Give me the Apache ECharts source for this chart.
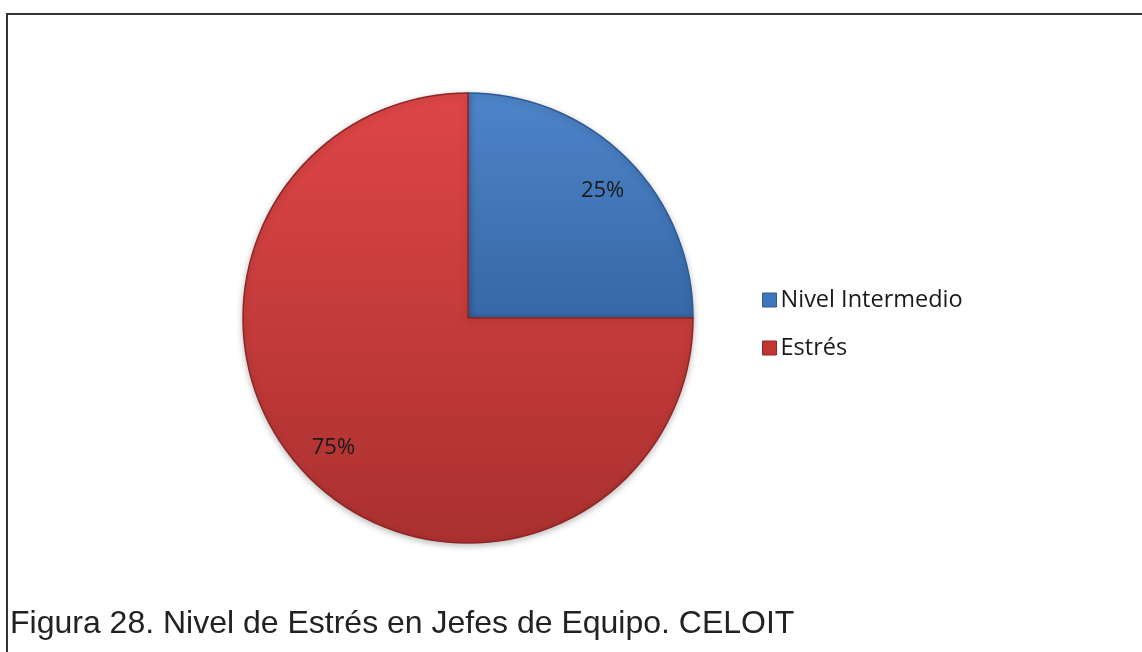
<!DOCTYPE html>
<html>
<head>
<meta charset="utf-8">
<script src="https://cdn.jsdelivr.net/npm/echarts@6/dist/echarts.min.js"></script>
<style>
  html, body { margin: 0; padding: 0; background: #fff; }
  #chart { width: 1142px; height: 652px; }
</style>
</head>
<body>
<div id="chart"></div>
<script>
// Stress level categories and their shares (percent)
const categories = ['Nivel Intermedio', 'Estrés'];
const values = [25, 75];
const captionText = 'Figura 28. Nivel de Estrés en Jefes de Equipo. CELOIT';

const fills = [
  new echarts.graphic.LinearGradient(0, 0, 0, 1, [
    { offset: 0, color: '#4d85c9' },
    { offset: 1, color: '#3767a7' }
  ]),
  new echarts.graphic.LinearGradient(0, 0, 0, 1, [
    { offset: 0, color: '#de4646' },
    { offset: 1, color: '#ab3030' }
  ])
];
const edges = ['#2d5a94', '#8f2626'];
const legendFills = ['#3f77bd', '#c23535'];
// small nudges for the percentage labels
const labelNudge = [[2, 5], [-2, -3]];

const pieData = categories.map((name, i) => ({
  name: name,
  value: values[i],
  itemStyle: { color: fills[i], borderColor: edges[i] }
}));

const labelData = categories.map((name, i) => ({
  name: name,
  value: values[i],
  label: { offset: labelNudge[i] }
}));

const chart = echarts.init(document.getElementById('chart'), null, { renderer: 'canvas' });

chart.setOption({
  animation: false,
  backgroundColor: '#ffffff',
  title: {
    text: captionText,
    left: 5,
    top: 603,
    textStyle: {
      fontFamily: 'Liberation Sans',
      fontSize: 32,
      fontWeight: 'normal',
      color: '#222222'
    }
  },
  legend: {
    orient: 'vertical',
    left: 757,
    top: 283,
    itemWidth: 14,
    itemHeight: 14,
    itemGap: 24,
    icon: 'rect',
    data: categories.map((name, i) => ({
      name: name,
      itemStyle: { color: legendFills[i], borderColor: edges[i], borderWidth: 1 }
    })),
    textStyle: {
      fontFamily: 'Open Sans',
      fontSize: 23.5,
      color: '#1a1a1a',
      padding: [0, 0, 0, -1]
    }
  },
  graphic: [{
    type: 'rect',
    silent: true,
    shape: { x: 7, y: 14, width: 1150, height: 660 },
    style: { fill: 'none', stroke: '#333333', lineWidth: 2 },
    z: -1
  }],
  series: [
    {
      type: 'pie',
      center: [468, 318],
      radius: [0, 225],
      startAngle: 90,
      clockwise: true,
      silent: true,
      label: { show: false },
      labelLine: { show: false },
      itemStyle: {
        borderWidth: 1.5,
        shadowBlur: 6,
        shadowOffsetY: 2,
        shadowColor: 'rgba(0,0,0,0.25)'
      },
      data: pieData
    },
    {
      // label ring placed so the percentages sit toward the rim
      type: 'pie',
      center: [468, 318],
      radius: [144, 225],
      startAngle: 90,
      clockwise: true,
      silent: true,
      itemStyle: { color: 'rgba(0,0,0,0)' },
      label: {
        show: true,
        position: 'inside',
        formatter: '{c}%',
        fontFamily: 'Open Sans',
        fontSize: 22,
        color: '#1a1a1a'
      },
      labelLine: { show: false },
      data: labelData
    }
  ]
});
</script>
</body>
</html>
